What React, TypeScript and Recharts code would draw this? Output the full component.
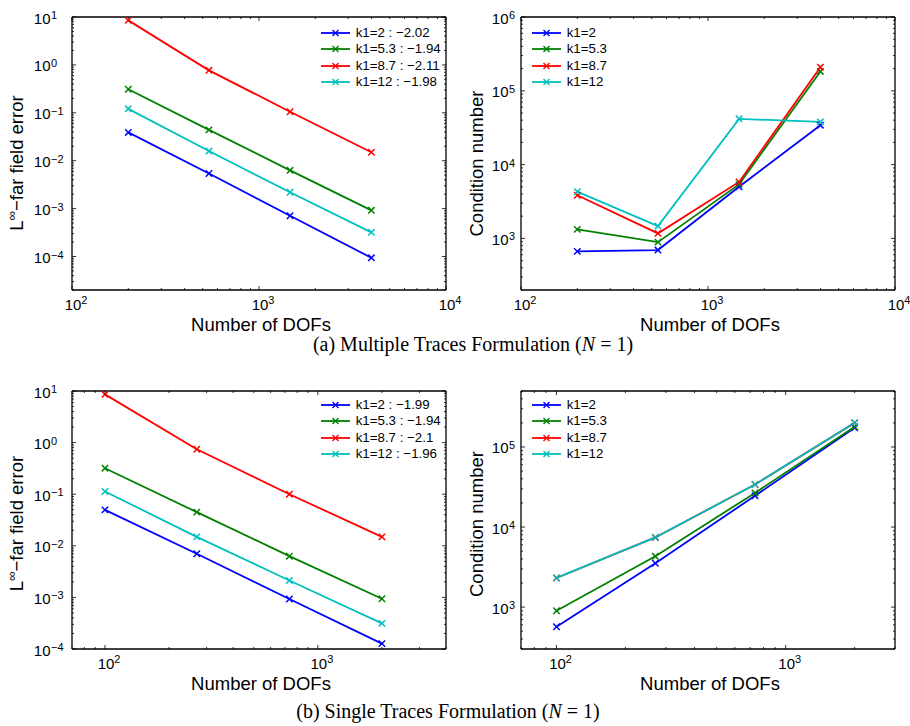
import React from "react";
import { LineChart, Line, XAxis, YAxis, Legend, Label } from "recharts";

const FONT = '"Liberation Sans", Arial, Helvetica, sans-serif';
const SERIF = '"Liberation Serif", "Times New Roman", serif';

// mesh sizes for the two formulations
const dofsMulti = [200, 540, 1466, 3990];
const dofsSingle = [100, 270, 735, 2000];

const seriesKeys = ["k2", "k53", "k87", "k12"];
const seriesLabels = ["k1=2", "k1=5.3", "k1=8.7", "k1=12"];
const seriesColors = ["#0000ff", "#008000", "#ff0000", "#00bfbf"];

// fitted convergence slopes shown in the legends
const slopesMulti = ["−2.02", "−1.94", "−2.11", "−1.98"];
const slopesSingle = ["−1.99", "−1.94", "−2.1", "−1.96"];

// multiple traces: far field error
const errMultiK2 = [0.039, 0.0054, 0.00071, 0.000094];
const errMultiK53 = [0.31, 0.044, 0.0063, 0.00092];
const errMultiK87 = [8.5, 0.77, 0.105, 0.015];
const errMultiK12 = [0.121, 0.0159, 0.0022, 0.00032];

// multiple traces: condition number
const condMultiK2 = [667, 695, 5000, 34200];
const condMultiK53 = [1325, 891, 5400, 183000];
const condMultiK87 = [3840, 1170, 5820, 209000];
const condMultiK12 = [4300, 1470, 41700, 37900];

// single traces: far field error
const errSingleK2 = [0.0497, 0.007, 0.00093, 0.000127];
const errSingleK53 = [0.319, 0.0449, 0.0063, 0.00094];
const errSingleK87 = [8.6, 0.743, 0.1, 0.0149];
const errSingleK12 = [0.113, 0.0149, 0.00213, 0.000314];

// single traces: condition number
const condSingleK2 = [569, 3530, 24600, 174000];
const condSingleK53 = [900, 4310, 26700, 179000];
const condSingleK87 = [2310, 7420, 34000, 200000];
const condSingleK12 = [2320, 7430, 34000, 201000];

type Row = Record<string, number>;

const makeRows = (dofs: number[], cols: number[][]): Row[] =>
  dofs.map((dof, i) => {
    const row: Row = { dof };
    seriesKeys.forEach((k, j) => {
      row[k] = cols[j][i];
    });
    return row;
  });

const logTicks = (lo: number, hi: number) => {
  const out: number[] = [];
  for (let e = Math.floor(Math.log10(lo)); e <= Math.ceil(Math.log10(hi)); e++) {
    for (let m = 1; m < 10; m++) {
      const v = m * Math.pow(10, e);
      if (v >= lo * 0.9999 && v <= hi * 1.0001) out.push(v);
    }
  }
  return out;
};

const decadeOf = (v: number) => {
  const l = Math.log10(v);
  const e = Math.round(l);
  return Math.abs(l - e) < 1e-6 ? e : null;
};

const expText = (e: number) => (e < 0 ? "−" + -e : String(e));

const BottomTick = (p: any) => {
  const { x, y, payload } = p;
  const e = decadeOf(payload.value);
  return (
    <g>
      <line x1={x} x2={x} y1={y} y2={y - (e !== null ? 4 : 2)} stroke="#000" strokeWidth={0.8} />
      {e !== null && (
        <g fontFamily={FONT} fill="#000">
          <text x={x + 1} y={y + 20} fontSize={15} textAnchor="middle">10</text>
          <text x={x + 9.3} y={y + 14} fontSize={11}>{expText(e)}</text>
        </g>
      )}
    </g>
  );
};

const TopTick = (p: any) => {
  const { x, y, payload } = p;
  const e = decadeOf(payload.value);
  return <line x1={x} x2={x} y1={y} y2={y + (e !== null ? 4 : 2)} stroke="#000" strokeWidth={0.8} />;
};

const RightTick = (p: any) => {
  const { x, y, payload } = p;
  const e = decadeOf(payload.value);
  return <line x1={x} x2={x - (e !== null ? 4 : 2)} y1={y} y2={y} stroke="#000" strokeWidth={0.8} />;
};

const makeLeftTick = (gap: number) => (p: any) => {
  const { x, y, payload } = p;
  const e = decadeOf(payload.value);
  return (
    <g>
      <line x1={x} x2={x + (e !== null ? 4 : 2)} y1={y} y2={y} stroke="#000" strokeWidth={0.8} />
      {e !== null && (
        <g fontFamily={FONT} fill="#000">
          <text x={x - gap} y={y + 6.5} fontSize={15} textAnchor="end">10</text>
          <text x={x - gap + 0.5} y={y + 2} fontSize={11}>{expText(e)}</text>
        </g>
      )}
    </g>
  );
};

const crossPath = (cx: number, cy: number, r: number) =>
  `M${cx - r},${cy - r}L${cx + r},${cy + r}M${cx - r},${cy + r}L${cx + r},${cy - r}`;

const makeCross = (color: string) => (p: any) => {
  const { cx, cy, index } = p;
  if (cx == null || cy == null) return <g key={`${color}-${index}`} />;
  return (
    <path key={`${color}-${index}`} d={crossPath(cx, cy, 3.2)} stroke={color} strokeWidth={1.5} fill="none" />
  );
};

const renderLegend = (props: any) => {
  const entries = [...(props.payload || [])].sort(
    (a: any, b: any) => seriesKeys.indexOf(String(a.dataKey)) - seriesKeys.indexOf(String(b.dataKey))
  );
  return (
    <div style={{ fontFamily: FONT, fontSize: 13.3, color: "#000" }}>
      {entries.map((entry: any) => (
        <div key={String(entry.dataKey)} style={{ display: "flex", alignItems: "center", height: 16.4 }}>
          <svg width={29} height={10} style={{ display: "block" }}>
            <line x1={0} x2={29} y1={5} y2={5} stroke={entry.color} strokeWidth={1.8} />
            <path d={crossPath(14.5, 5, 3)} stroke={entry.color} strokeWidth={1.4} fill="none" />
          </svg>
          <span style={{ marginLeft: 6, whiteSpace: "nowrap", lineHeight: "16.4px" }}>{entry.value}</span>
        </div>
      ))}
    </div>
  );
};

const xTitle = (props: any) => {
  const { x, y, width } = props.viewBox;
  return (
    <text x={x + width / 2 + 2} y={y + 40.5} textAnchor="middle" fontFamily={FONT} fontSize={18.5} fill="#000">
      Number of DOFs
    </text>
  );
};

const makeYTitle = (kind: "err" | "cond", dx: number, dy: number) => (props: any) => {
  const { x, y, width, height } = props.viewBox;
  const tx = x + width - dx;
  const ty = y + height / 2 + dy;
  return (
    <text
      transform={`translate(${tx},${ty}) rotate(-90)`}
      textAnchor="middle"
      fontFamily={FONT}
      fontSize={18.5}
      fill="#000"
    >
      {kind === "err" ? (
        <>
          L<tspan dy={-7} fontSize={13}>∞</tspan>
          <tspan dy={7}>−far field error</tspan>
        </>
      ) : (
        "Condition number"
      )}
    </text>
  );
};

type PanelProps = {
  left: number;
  top: number;
  width: number;
  height: number;
  // margins measured to the plot box edges
  box: { top: number; right: number; bottom: number; left: number };
  rows: Row[];
  xDomain: [number, number];
  yDomain: [number, number];
  kind: "err" | "cond";
  labelGap: number;
  titleDx: number;
  titleDy: number;
  legendNames: string[];
  legendLeft: number;
  legendTop: number;
};

// axes get a 1px band so they are not skipped; margins shrink by the same amount
const AXIS_BAND = 1;

const Panel = (p: PanelProps) => {
  const xTicks = logTicks(p.xDomain[0], p.xDomain[1]);
  const yTicks = logTicks(p.yDomain[0], p.yDomain[1]);
  const axisLine = { stroke: "#000", strokeWidth: 1.3 };
  const margin = {
    top: p.box.top - AXIS_BAND,
    right: p.box.right - AXIS_BAND,
    bottom: p.box.bottom - AXIS_BAND,
    left: p.box.left - AXIS_BAND,
  };
  return (
    <div style={{ position: "absolute", left: p.left, top: p.top }}>
      <LineChart width={p.width} height={p.height} data={p.rows} margin={margin}>
        <XAxis
          xAxisId="b"
          dataKey="dof"
          type="number"
          scale="log"
          domain={p.xDomain}
          allowDataOverflow
          ticks={xTicks}
          interval={0}
          height={AXIS_BAND}
          tickSize={0}
          tickMargin={0}
          tickLine={false}
          axisLine={axisLine}
          tick={BottomTick}
        >
          <Label content={xTitle} />
        </XAxis>
        <XAxis
          xAxisId="t"
          orientation="top"
          dataKey="dof"
          type="number"
          scale="log"
          domain={p.xDomain}
          allowDataOverflow
          ticks={xTicks}
          interval={0}
          height={AXIS_BAND}
          tickSize={0}
          tickMargin={0}
          tickLine={false}
          axisLine={axisLine}
          tick={TopTick}
        />
        <YAxis
          yAxisId="l"
          type="number"
          scale="log"
          domain={p.yDomain}
          allowDataOverflow
          ticks={yTicks}
          interval={0}
          width={AXIS_BAND}
          tickSize={0}
          tickMargin={0}
          tickLine={false}
          axisLine={axisLine}
          tick={makeLeftTick(p.labelGap)}
        >
          <Label content={makeYTitle(p.kind, p.titleDx, p.titleDy)} />
        </YAxis>
        <YAxis
          yAxisId="r"
          orientation="right"
          type="number"
          scale="log"
          domain={p.yDomain}
          allowDataOverflow
          ticks={yTicks}
          interval={0}
          width={AXIS_BAND}
          tickSize={0}
          tickMargin={0}
          tickLine={false}
          axisLine={axisLine}
          tick={RightTick}
        />
        <Legend
          layout="vertical"
          align="center"
          verticalAlign="middle"
          content={renderLegend}
          wrapperStyle={{ left: p.legendLeft, top: p.legendTop, width: "auto", height: "auto" }}
        />
        {seriesKeys.map((k, i) => (
          <Line
            key={k}
            xAxisId="b"
            yAxisId="l"
            type="linear"
            dataKey={k}
            name={p.legendNames[i]}
            stroke={seriesColors[i]}
            strokeWidth={1.8}
            dot={makeCross(seriesColors[i])}
            activeDot={false}
            isAnimationActive={false}
          />
        ))}
      </LineChart>
    </div>
  );
};

const namesWithSlopes = (slopes: string[]) => seriesLabels.map((s, i) => `${s} : ${slopes[i]}`);

const App = () => {
  const topBox = { top: 17, bottom: 50 };
  const botBox = { top: 31, bottom: 77 };
  return (
    <div style={{ position: "absolute", left: 0, top: 0, width: 910, height: 726, background: "#fff" }}>
      {/* tick labels at the right edge of a panel may spill past its svg */}
      <style>{".recharts-surface{overflow:visible}"}</style>
      <Panel
        left={0}
        top={0}
        width={455}
        height={340}
        box={{ ...topBox, left: 72, right: 9 }}
        rows={makeRows(dofsMulti, [errMultiK2, errMultiK53, errMultiK87, errMultiK12])}
        xDomain={[100, 10000]}
        yDomain={[2e-5, 10]}
        kind="err"
        labelGap={21.5}
        titleDx={49}
        titleDy={9.5}
        legendNames={namesWithSlopes(slopesMulti)}
        legendLeft={320.7}
        legendTop={24.8}
      />
      <Panel
        left={455}
        top={0}
        width={455}
        height={340}
        box={{ ...topBox, left: 66, right: 15 }}
        rows={makeRows(dofsMulti, [condMultiK2, condMultiK53, condMultiK87, condMultiK12])}
        xDomain={[100, 10000]}
        yDomain={[200, 1e6]}
        kind="cond"
        labelGap={12.5}
        titleDx={38}
        titleDy={10}
        legendNames={seriesLabels}
        legendLeft={76.7}
        legendTop={24.8}
      />
      <Panel
        left={0}
        top={360}
        width={455}
        height={366}
        box={{ ...botBox, left: 72, right: 9 }}
        rows={makeRows(dofsSingle, [errSingleK2, errSingleK53, errSingleK87, errSingleK12])}
        xDomain={[70, 4000]}
        yDomain={[1e-4, 10]}
        kind="err"
        labelGap={21.5}
        titleDx={49}
        titleDy={3.5}
        legendNames={namesWithSlopes(slopesSingle)}
        legendLeft={320.7}
        legendTop={36.8}
      />
      <Panel
        left={455}
        top={360}
        width={455}
        height={366}
        box={{ ...botBox, left: 66, right: 15 }}
        rows={makeRows(dofsSingle, [condSingleK2, condSingleK53, condSingleK87, condSingleK12])}
        xDomain={[70, 3000]}
        yDomain={[300, 5e5]}
        kind="cond"
        labelGap={12.5}
        titleDx={38}
        titleDy={4}
        legendNames={seriesLabels}
        legendLeft={76.7}
        legendTop={36.8}
      />
      <svg
        width={910}
        height={726}
        style={{ position: "absolute", left: 0, top: 0, pointerEvents: "none" }}
      >
        <text x={473} y={351} textAnchor="middle" fontFamily={SERIF} fontSize={20} fill="#000">
          (a) Multiple Traces Formulation (<tspan fontStyle="italic">N</tspan> = 1)
        </text>
        <text x={448} y={718} textAnchor="middle" fontFamily={SERIF} fontSize={20} fill="#000">
          (b) Single Traces Formulation (<tspan fontStyle="italic">N</tspan> = 1)
        </text>
      </svg>
    </div>
  );
};

export default App;
